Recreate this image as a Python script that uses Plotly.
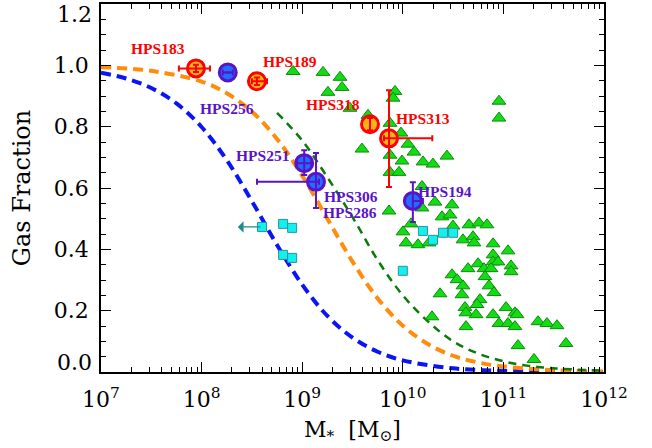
import plotly.graph_objects as go

# ---------------- data ----------------
# model curves: log10(M*) and gas fraction
blue_logm = [7.0, 7.25, 7.5, 7.75, 8.0, 8.25, 8.5, 8.75, 9.0, 9.25, 9.5, 9.75, 10.0, 10.5, 11.0, 11.5, 12.0]
blue_f = [0.976, 0.957, 0.926, 0.876, 0.799, 0.691, 0.557, 0.414, 0.285, 0.183, 0.112, 0.066, 0.038, 0.012, 0.004, 0.001, 0.0004]

orange_logm = [7.0, 7.5, 8.0, 8.25, 8.5, 8.75, 9.0, 9.25, 9.5, 9.75, 10.0, 10.25, 10.5, 10.75, 11.0, 11.5, 12.0]
orange_f = [0.994, 0.982, 0.947, 0.909, 0.849, 0.760, 0.640, 0.500, 0.360, 0.240, 0.151, 0.091, 0.053, 0.031, 0.018, 0.006, 0.002]

green_logm = [8.75, 9.0, 9.25, 9.5, 9.75, 10.0, 10.25, 10.5, 10.75, 11.0, 11.25, 11.5, 12.0]
green_f = [0.845, 0.755, 0.635, 0.505, 0.365, 0.250, 0.165, 0.100, 0.060, 0.035, 0.020, 0.012, 0.004]

# comparison sample (green triangles)
tri_logm = [8.909, 9.207, 9.376, 9.396, 9.256, 9.922, 9.903, 10.956, 10.956, 9.654,
            9.475, 9.873, 9.982, 9.594, 10.052, 10.111, 9.873, 9.992, 10.201, 10.300,
            10.439, 9.873, 9.962, 10.191, 9.863, 10.320, 10.489, 10.191, 10.390, 10.469,
            10.082, 10.002, 10.499, 10.658, 10.757, 10.837, 10.032, 10.151, 10.260, 10.598,
            10.698, 10.708, 10.897, 11.046, 10.897, 10.897, 10.946, 11.076, 11.076, 10.748,
            10.648, 10.807, 10.877, 10.489, 10.539, 10.817, 10.598, 10.857, 10.907, 10.370,
            10.588, 10.767, 10.738, 10.618, 10.628, 10.728, 11.026, 10.897, 11.115, 11.135,
            10.290, 10.956, 11.046, 11.115, 10.628, 11.344, 11.433, 11.533, 11.622, 11.145,
            11.304]
tri_f = [0.980, 0.977, 0.961, 0.928, 0.912, 0.915, 0.893, 0.883, 0.828, 0.837,
         0.860, 0.811, 0.779, 0.727, 0.743, 0.717, 0.707, 0.688, 0.685, 0.678,
         0.704, 0.651, 0.651, 0.605, 0.525, 0.554, 0.545, 0.535, 0.506, 0.512,
         0.483, 0.457, 0.476, 0.480, 0.486, 0.480, 0.421, 0.415, 0.421, 0.431,
         0.441, 0.421, 0.418, 0.395, 0.382, 0.359, 0.359, 0.346, 0.327, 0.353,
         0.337, 0.337, 0.337, 0.317, 0.301, 0.311, 0.281, 0.281, 0.259, 0.255,
         0.252, 0.236, 0.220, 0.210, 0.193, 0.187, 0.210, 0.187, 0.193, 0.187,
         0.180, 0.158, 0.158, 0.148, 0.148, 0.164, 0.158, 0.151, 0.093, 0.086,
         0.041]

# cyan squares
sq_logm = [8.60, 8.81, 8.90, 8.81, 8.90, 10.00, 10.20, 10.30, 10.40, 10.50]
sq_f = [0.473, 0.483, 0.470, 0.382, 0.372, 0.330, 0.460, 0.431, 0.454, 0.454]
sq_limit_logm = [8.60]          # upper limit (arrow to the left)
sq_limit_f = [0.473]
sq_limit_to = [8.36]

# HPS galaxies (orange circles)
red_names = ["HPS183", "HPS189", "HPS318", "HPS313"]
red_logm = [7.944, 8.55, 9.674, 9.863]
red_f = [0.990, 0.948, 0.808, 0.762]
red_xlo = [0.17, 0.05, 0.0, 0.05]
red_xhi = [0.14, 0.10, 0.0, 0.43]
red_ylo = [0.012, 0.012, 0.02, 0.159]
red_yhi = [0.012, 0.012, 0.02, 0.157]

# HPS galaxies (blue circles)
blue_names = ["HPS256", "HPS251", "HPS306", "HPS194"]
blu_logm = [8.26, 9.02, 9.137, 10.10]
blu_f = [0.977, 0.681, 0.620, 0.558]
blu_xlo = [0.05, 0.07, 0.586, 0.0]
blu_xhi = [0.05, 0.07, 0.03, 0.10]
blu_ylo = [0.0, 0.039, 0.085, 0.069]
blu_yhi = [0.0, 0.042, 0.094, 0.061]

# axis ticks
x_tick_exp = [7, 8, 9, 10, 11, 12]
y_ticks = [0.0, 0.2, 0.4, 0.6, 0.8, 1.0, 1.2]

# ---------------- styles ----------------
RED = "#ff0000"
PURPLE = "#5a14c8"
SERIF = "DejaVu Serif"
LABEL_FONT = "Liberation Serif"


def lin(v):
    return [10 ** a for a in v]


def errs(logm, lo, hi):
    m = lin(logm)
    minus = [mm - 10 ** (a - d) for mm, a, d in zip(m, logm, lo)]
    plus = [10 ** (a + d) - mm for mm, a, d in zip(m, logm, hi)]
    return minus, plus


fig = go.Figure()

# model curves
fig.add_trace(go.Scatter(x=lin(blue_logm), y=blue_f, mode="lines", line_shape="spline",
                         line=dict(color="#0a14f5", width=4, dash="10px,6px"), hoverinfo="skip"))
fig.add_trace(go.Scatter(x=lin(orange_logm), y=orange_f, mode="lines", line_shape="spline",
                         line=dict(color="#ff8c0a", width=4, dash="10px,6px"), hoverinfo="skip"))
fig.add_trace(go.Scatter(x=lin(green_logm), y=green_f, mode="lines", line_shape="spline",
                         line=dict(color="#0a7a0a", width=2.5, dash="8px,6px"), hoverinfo="skip"))

# triangles
fig.add_trace(go.Scatter(x=lin(tri_logm), y=tri_f, mode="markers",
                         marker=dict(symbol="triangle-up", size=12, color="#14dc14",
                                     line=dict(color="#0a8c0a", width=1))))
# squares
fig.add_trace(go.Scatter(x=lin(sq_logm), y=sq_f, mode="markers",
                         marker=dict(symbol="square", size=9, color="#14f0f0",
                                     line=dict(color="#289696", width=1))))

# orange circles + error bars on top
rxm, rxp = errs(red_logm, red_xlo, red_xhi)
fig.add_trace(go.Scatter(x=lin(red_logm), y=red_f, mode="markers",
                         marker=dict(symbol="circle", size=17, color="#ffb414",
                                     line=dict(color=RED, width=3))))
fig.add_trace(go.Scatter(x=lin(red_logm), y=red_f, mode="markers",
                         marker=dict(size=1, color="rgba(0,0,0,0)"),
                         error_x=dict(type="data", symmetric=False, array=rxp, arrayminus=rxm,
                                      color=RED, thickness=2, width=3),
                         error_y=dict(type="data", symmetric=False, array=red_yhi, arrayminus=red_ylo,
                                      color=RED, thickness=2, width=3)))

bxm, bxp = errs(blu_logm, blu_xlo, blu_xhi)
fig.add_trace(go.Scatter(x=lin(blu_logm), y=blu_f, mode="markers",
                         marker=dict(symbol="circle", size=17, color="#1e6eff",
                                     line=dict(color=PURPLE, width=3))))
fig.add_trace(go.Scatter(x=lin(blu_logm), y=blu_f, mode="markers",
                         marker=dict(size=1, color="rgba(0,0,0,0)"),
                         error_x=dict(type="data", symmetric=False, array=bxp, arrayminus=bxm,
                                      color=PURPLE, thickness=2, width=3),
                         error_y=dict(type="data", symmetric=False, array=blu_yhi, arrayminus=blu_ylo,
                                      color=PURPLE, thickness=2, width=3)))

annotations = []
# upper-limit arrow
for a, f, t in zip(sq_limit_logm, sq_limit_f, sq_limit_to):
    annotations.append(dict(x=t, y=f, ax=a, ay=f, xref="x", yref="y", axref="x", ayref="y",
                            showarrow=True, arrowhead=1, arrowsize=1.6, arrowwidth=1.2,
                            arrowcolor="#1e8c8c", text=""))

# labels (placement)
label_pos = {
    "HPS183": (7.567, 1.055, RED), "HPS189": (8.879, 1.013, RED),
    "HPS318": (9.306, 0.873, RED), "HPS313": (10.201, 0.828, RED),
    "HPS256": (8.252, 0.860, PURPLE), "HPS251": (8.610, 0.707, PURPLE),
    "HPS306": (9.485, 0.572, PURPLE), "HPS286": (9.475, 0.520, PURPLE),
    "HPS194": (10.419, 0.587, PURPLE),
}
for name, (lx, ly, col) in label_pos.items():
    annotations.append(dict(x=lx, y=ly, xref="x", yref="y", text="<b>%s</b>" % name,
                            showarrow=False, font=dict(family=LABEL_FONT, size=15.5, color=col)))

# end labels of the y axis sit just inside the frame (as in the original)
end_shift = {0.0: 10, 1.2: -10}
ytext = []
for v in y_ticks:
    if v in end_shift:
        ytext.append("")
        annotations.append(dict(x=0, y=v, xref="paper", yref="y", xanchor="right",
                                xshift=-7, yshift=end_shift[v], text="%.1f" % v, showarrow=False,
                                font=dict(family=SERIF, size=22, color="black")))
    else:
        ytext.append("%.1f" % v)

fig.update_layout(
    width=652, height=448,
    margin=dict(l=101, r=48, t=3.5, b=75.5, autoexpand=False),
    paper_bgcolor="white", plot_bgcolor="white",
    showlegend=False,
    annotations=annotations,
    font=dict(family=SERIF, color="black"),
    xaxis=dict(type="log", range=[7, 12], showline=True, linecolor="black", linewidth=1.5,
               mirror="ticks", ticks="inside", ticklen=10, tickwidth=1.2, tickcolor="black",
               tickvals=[10 ** e for e in x_tick_exp],
               ticktext=["10<sup>%d</sup>" % e for e in x_tick_exp],
               ticklabelstandoff=7, automargin=False, ticklabeloverflow="allow",
               showgrid=False, zeroline=False, tickfont=dict(family=SERIF, size=22),
               minor=dict(ticks="inside", ticklen=5, tickwidth=1, tickcolor="black",
                          dtick="D1", showgrid=False),
               title=dict(text="M<sub>*</sub>  [M<sub>⊙</sub>]", font=dict(family=SERIF, size=22),
                          standoff=10)),
    yaxis=dict(range=[0, 1.2], showline=True, linecolor="black", linewidth=1.5,
               mirror="ticks", ticks="inside", ticklen=10, tickwidth=1.2, tickcolor="black",
               tickvals=y_ticks, ticktext=ytext,
               ticklabelstandoff=6, automargin=False, ticklabeloverflow="allow",
               showgrid=False, zeroline=False, tickfont=dict(family=SERIF, size=22),
               minor=dict(ticks="inside", ticklen=5, tickwidth=1, tickcolor="black",
                          dtick=0.05, tick0=0, showgrid=False),
               title=dict(text="Gas Fraction", font=dict(family=SERIF, size=24), standoff=16)),
)

fig.write_html("out.html", config={"displayModeBar": False},
               post_script="document.body.style.margin='0px';")
